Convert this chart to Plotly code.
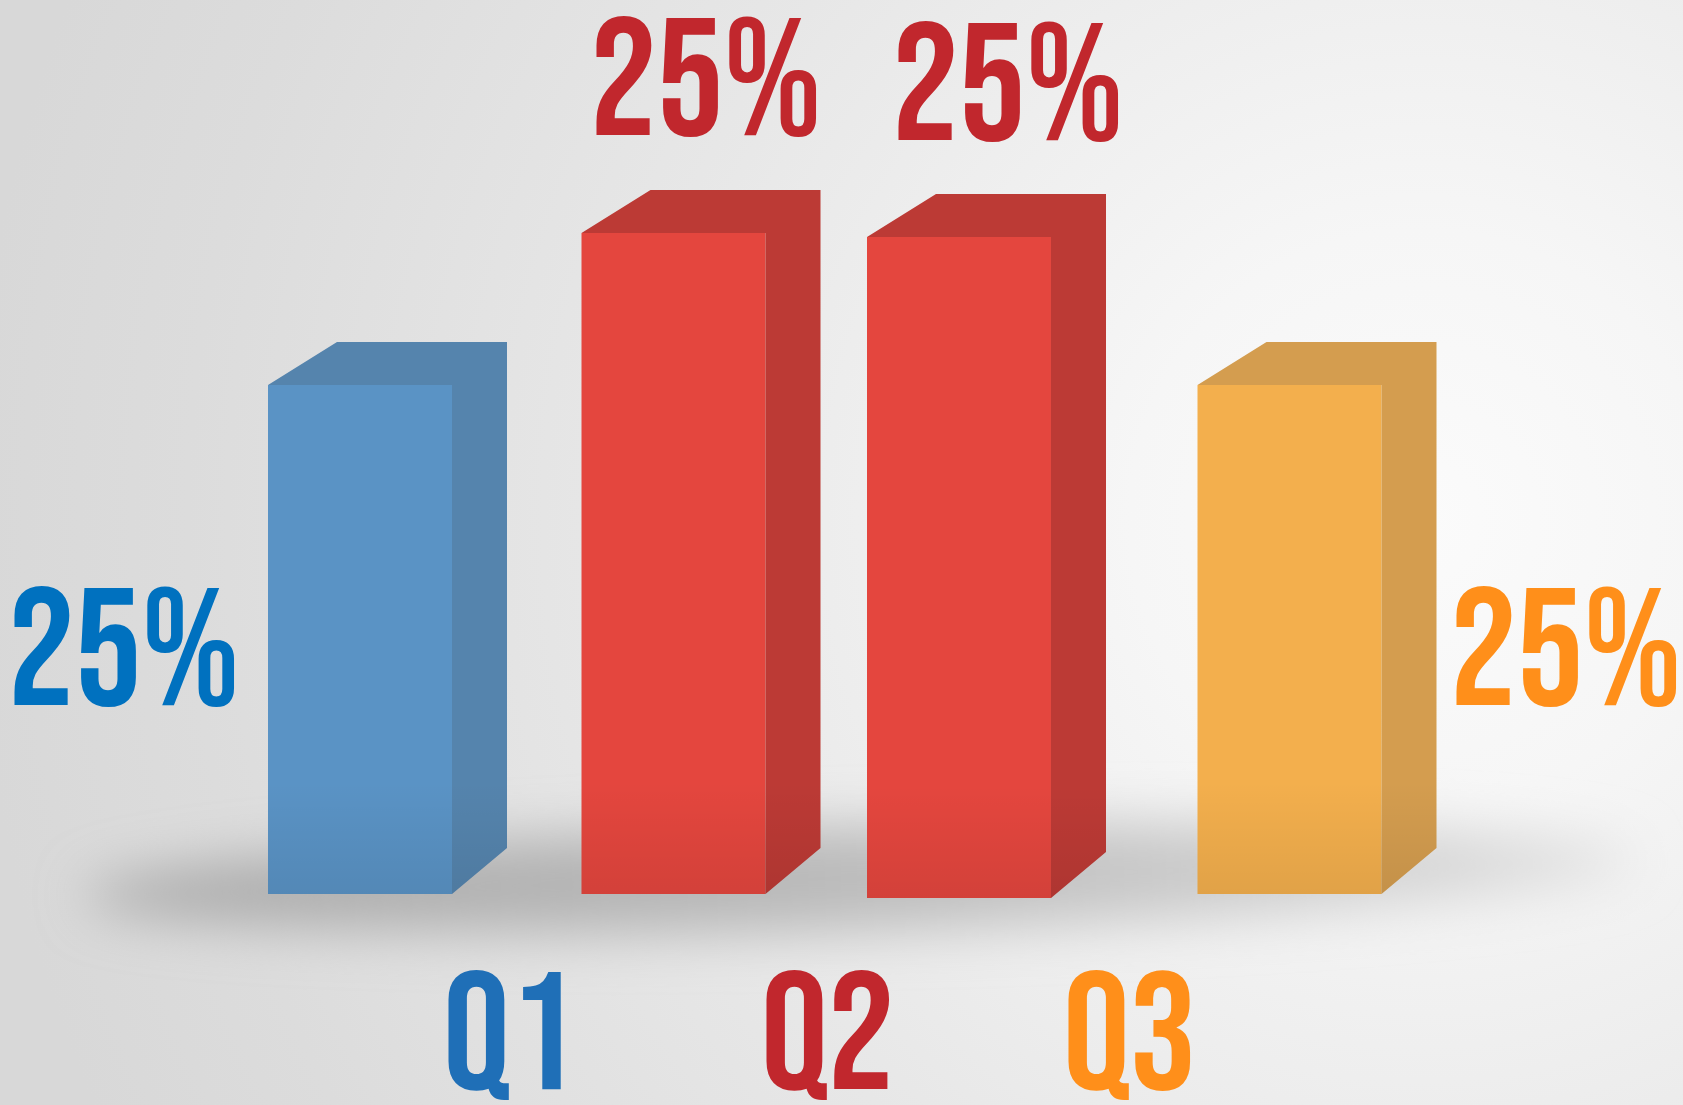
import base64
import plotly.graph_objects as go

# ---------------- data ----------------
bar_values = [77, 100, 100, 77]             # relative bar heights
bar_labels = ["25%", "25%", "25%", "25%"]   # value labels
quarter_labels = ["Q1", "Q2", "Q3"]

# ---------------- styling / layout ----------------
W, H = 1683, 1105
PX_PER_UNIT = 6.61
BASE_PX_FROM_BOTTOM = 211
ymin = -BASE_PX_FROM_BOTTOM / PX_PER_UNIT
ymax = ymin + H / PX_PER_UNIT

bar_centers = [360, 673.5, 959, 1289.5]
bar_width = 184
bar_drop_px = [0, 0, 4, 0]
depth_left, depth_right = 69, 55
depth_up = 43 / PX_PER_UNIT
side_bottom_up = 46 / PX_PER_UNIT

front_cols = ["#5A93C5", "#E4463E", "#E4463E", "#F3AF4D"]
side_cols = ["#5584AD", "#BC3A35", "#BC3A35", "#D49D4F"]

label_cols = ["#0071BF", "#C1272D", "#C1272D", "#FF8F1A"]
q_cols = ["#1F6FB7", "#C1272D", "#FF8F1A"]
FONT = "Bebas Neue, Oswald, Roboto Condensed, sans-serif"
FSIZE = 167

bg_svg = f"""<svg xmlns='http://www.w3.org/2000/svg' width='{W}' height='{H}' viewBox='0 0 {W} {H}'>
<defs>
<radialGradient id='bg' cx='1420' cy='520' r='1450' gradientUnits='userSpaceOnUse'>
<stop offset='0' stop-color='#fbfbfb'/>
<stop offset='0.2' stop-color='#f6f6f6'/>
<stop offset='0.55' stop-color='#e7e7e7'/>
<stop offset='0.85' stop-color='#dcdcdc'/>
<stop offset='1' stop-color='#d8d8d8'/>
</radialGradient>
<linearGradient id='sh' x1='0' x2='1' y1='0' y2='0'>
<stop offset='0' stop-color='#a9a9a9'/>
<stop offset='0.45' stop-color='#b9b9b9'/>
<stop offset='0.8' stop-color='#d0d0d0'/>
<stop offset='1' stop-color='#e2e2e2'/>
</linearGradient>
<filter id='blur' x='-20%' y='-150%' width='140%' height='400%'><feGaussianBlur stdDeviation='26'/></filter>
</defs>
<rect width='{W}' height='{H}' fill='url(#bg)'/>
<ellipse cx='860' cy='878' rx='775' ry='52' fill='url(#sh)' filter='url(#blur)' transform='rotate(-1.3 860 878)'/>
</svg>"""
bg_uri = "data:image/svg+xml;base64," + base64.b64encode(bg_svg.encode()).decode()

fig = go.Figure()

bases = [-d / PX_PER_UNIT for d in bar_drop_px]

# front faces
fig.add_trace(go.Bar(
    x=bar_centers, y=bar_values, base=bases, width=bar_width,
    marker=dict(color=front_cols, line=dict(width=0)),
    hoverinfo="skip", showlegend=False,
))

for i, v in enumerate(bar_values):
    b = bases[i]
    top = b + v
    xl = bar_centers[i] - bar_width / 2
    xr = bar_centers[i] + bar_width / 2
    # top + side faces (one solid colour, as in the reference)
    fig.add_trace(go.Scatter(
        x=[xl, xl + depth_left, xr + depth_right, xr + depth_right, xr, xr, xl],
        y=[top, top + depth_up, top + depth_up, b + side_bottom_up, b, top, top],
        fill="toself", fillcolor=side_cols[i], mode="lines",
        line=dict(width=0), hoverinfo="skip", showlegend=False,
    ))
    # bottom shading (shadow region)
    sh_h = 17
    fig.add_trace(go.Scatter(
        x=[xl, xl, xr + depth_right, xr + depth_right, xr, xl],
        y=[b, b + sh_h, b + sh_h, b + side_bottom_up, b, b],
        fill="toself", mode="lines", line=dict(width=0),
        fillgradient=dict(type="vertical",
                          colorscale=[[0, "rgba(0,0,0,0.075)"], [1, "rgba(0,0,0,0)"]]),
        hoverinfo="skip", showlegend=False,
    ))

# value labels (x centre, cap-centre y in pixels)
label_pos = [(124, 646), (706, 76.5), (1008, 81), (1566, 646)]
YOFF = 9
for (px, py), txt, col in zip(label_pos, bar_labels, label_cols):
    fig.add_annotation(
        x=px / W, y=1 - (py + YOFF) / H, xref="paper", yref="paper",
        text=txt, showarrow=False, xanchor="center", yanchor="middle",
        font=dict(family=FONT, size=FSIZE, color=col),
    )

q_pos = [(510, 1029.5), (828, 1029.5), (1129.5, 1029.5)]
for (px, py), txt, col in zip(q_pos, quarter_labels, q_cols):
    fig.add_annotation(
        x=px / W, y=1 - (py + YOFF) / H, xref="paper", yref="paper",
        text=txt, showarrow=False, xanchor="center", yanchor="middle",
        font=dict(family=FONT, size=FSIZE, color=col),
    )

fig.update_layout(
    width=W, height=H,
    margin=dict(l=0, r=0, t=0, b=0),
    paper_bgcolor="#e6e6e6", plot_bgcolor="rgba(0,0,0,0)",
    barmode="overlay",
    xaxis=dict(range=[0, W], visible=False, fixedrange=True),
    yaxis=dict(range=[ymin, ymax], visible=False, fixedrange=True),
    images=[dict(source=bg_uri, xref="paper", yref="paper", x=0, y=1,
                 sizex=1, sizey=1, sizing="stretch", layer="below", xanchor="left", yanchor="top")],
    showlegend=False,
)

fig.write_html("out.html", config={"displayModeBar": False},
               post_script="document.body.style.margin='0';")
